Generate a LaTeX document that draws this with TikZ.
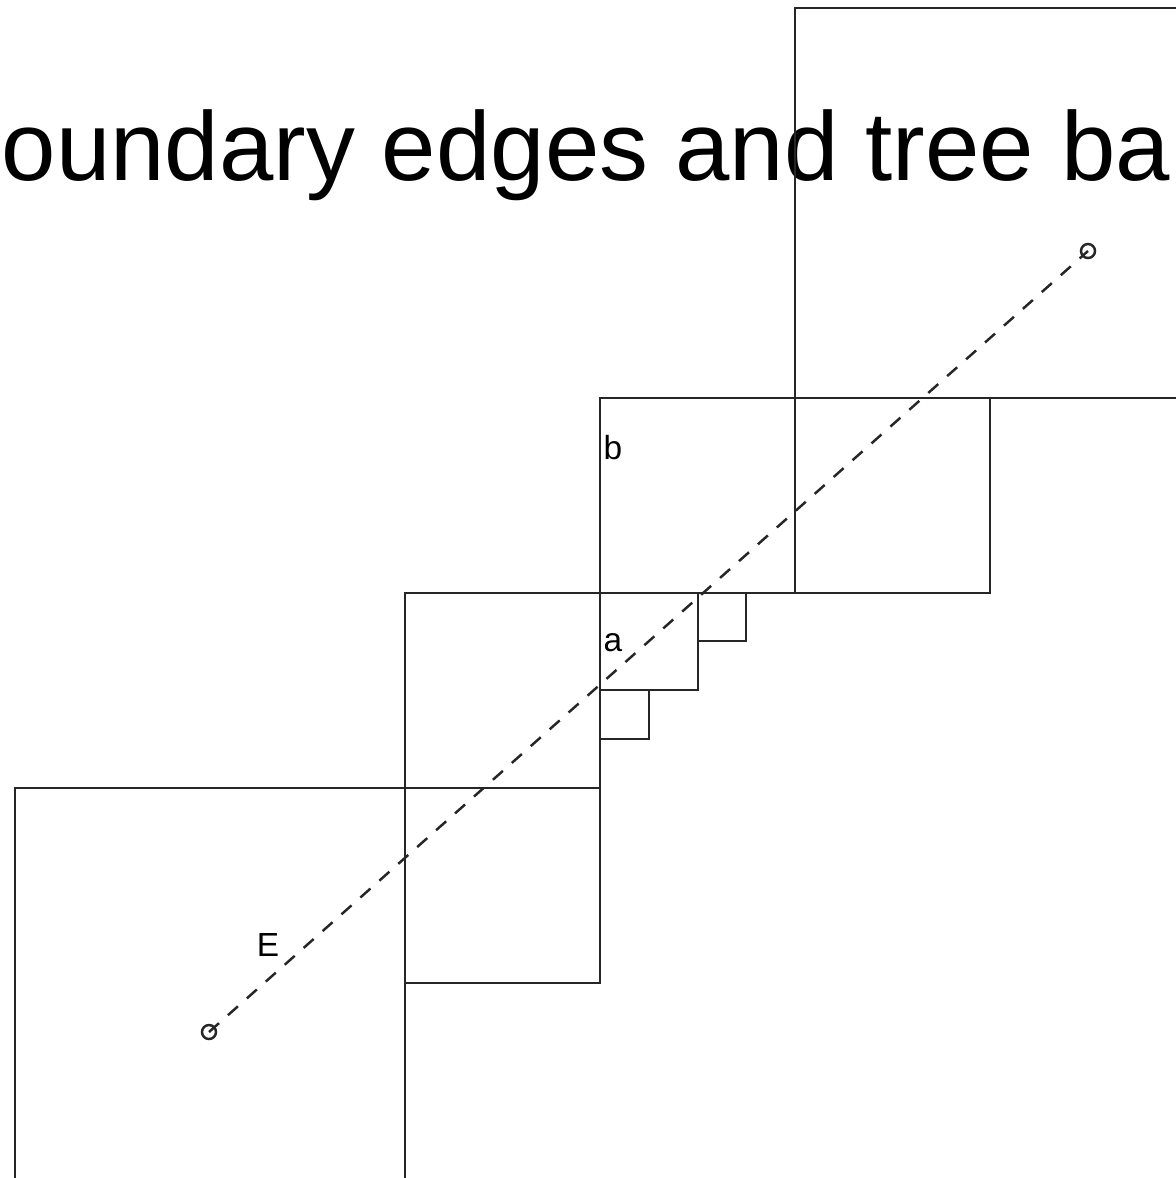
\documentclass[tikz,border=0pt]{standalone}
\usepackage{fontspec}
\setmainfont{Liberation Sans}
\usetikzlibrary{positioning}

\begin{document}
\begin{tikzpicture}[
    x=0.01cm, y=-0.01cm,
    cell/.style={
        draw=black!85,
        line width=0.7pt
    },
    ray/.style={
        draw=black!85,
        line width=0.7pt,
        dash pattern=on 3.8pt off 3.4pt
    },
    endpt/.style={
        draw=black!85,
        circle,
        line width=0.7pt,
        inner sep=0pt,
        minimum size=0.14cm
    },
    lbl/.style={
        font=\fontsize{9.5pt}{11pt}\selectfont,
        inner sep=0pt
    }
]
\clip (0,0) rectangle (1176,1178);

% Title
\node[anchor=base west, inner sep=0pt, font=\fontsize{27.8pt}{30pt}\selectfont] (title) at (1,180) {oundary edges and tree ba};

% Big cells
\draw[cell] (15,788) rectangle ++(390,392);
\draw[cell] (795,8) rectangle ++(390,390);

% Middle cells
\draw[cell] (405,788) rectangle ++(195,195);
\draw[cell] (405,593) rectangle ++(195,195);
\draw[cell] (600,398) rectangle ++(195,195);
\draw[cell] (795,398) rectangle ++(195,195);

% Small cells
\draw[cell] (600,593) rectangle ++(98,97);
\draw[cell] (698,593) rectangle ++(48,48);
\draw[cell] (600,690) rectangle ++(49,49);

% Ray
\node[endpt] (start) at (209,1032) {};
\node[endpt] (stop) at (1088,251) {};
\draw[ray] (start.center) -- (stop.center);

% Labels
\node[lbl] (lb) at (613,448) {b};
\node[lbl] (la) at (613,643) {a};
\node[lbl] (le) at (268,945) {E};

\end{tikzpicture}
\end{document}
